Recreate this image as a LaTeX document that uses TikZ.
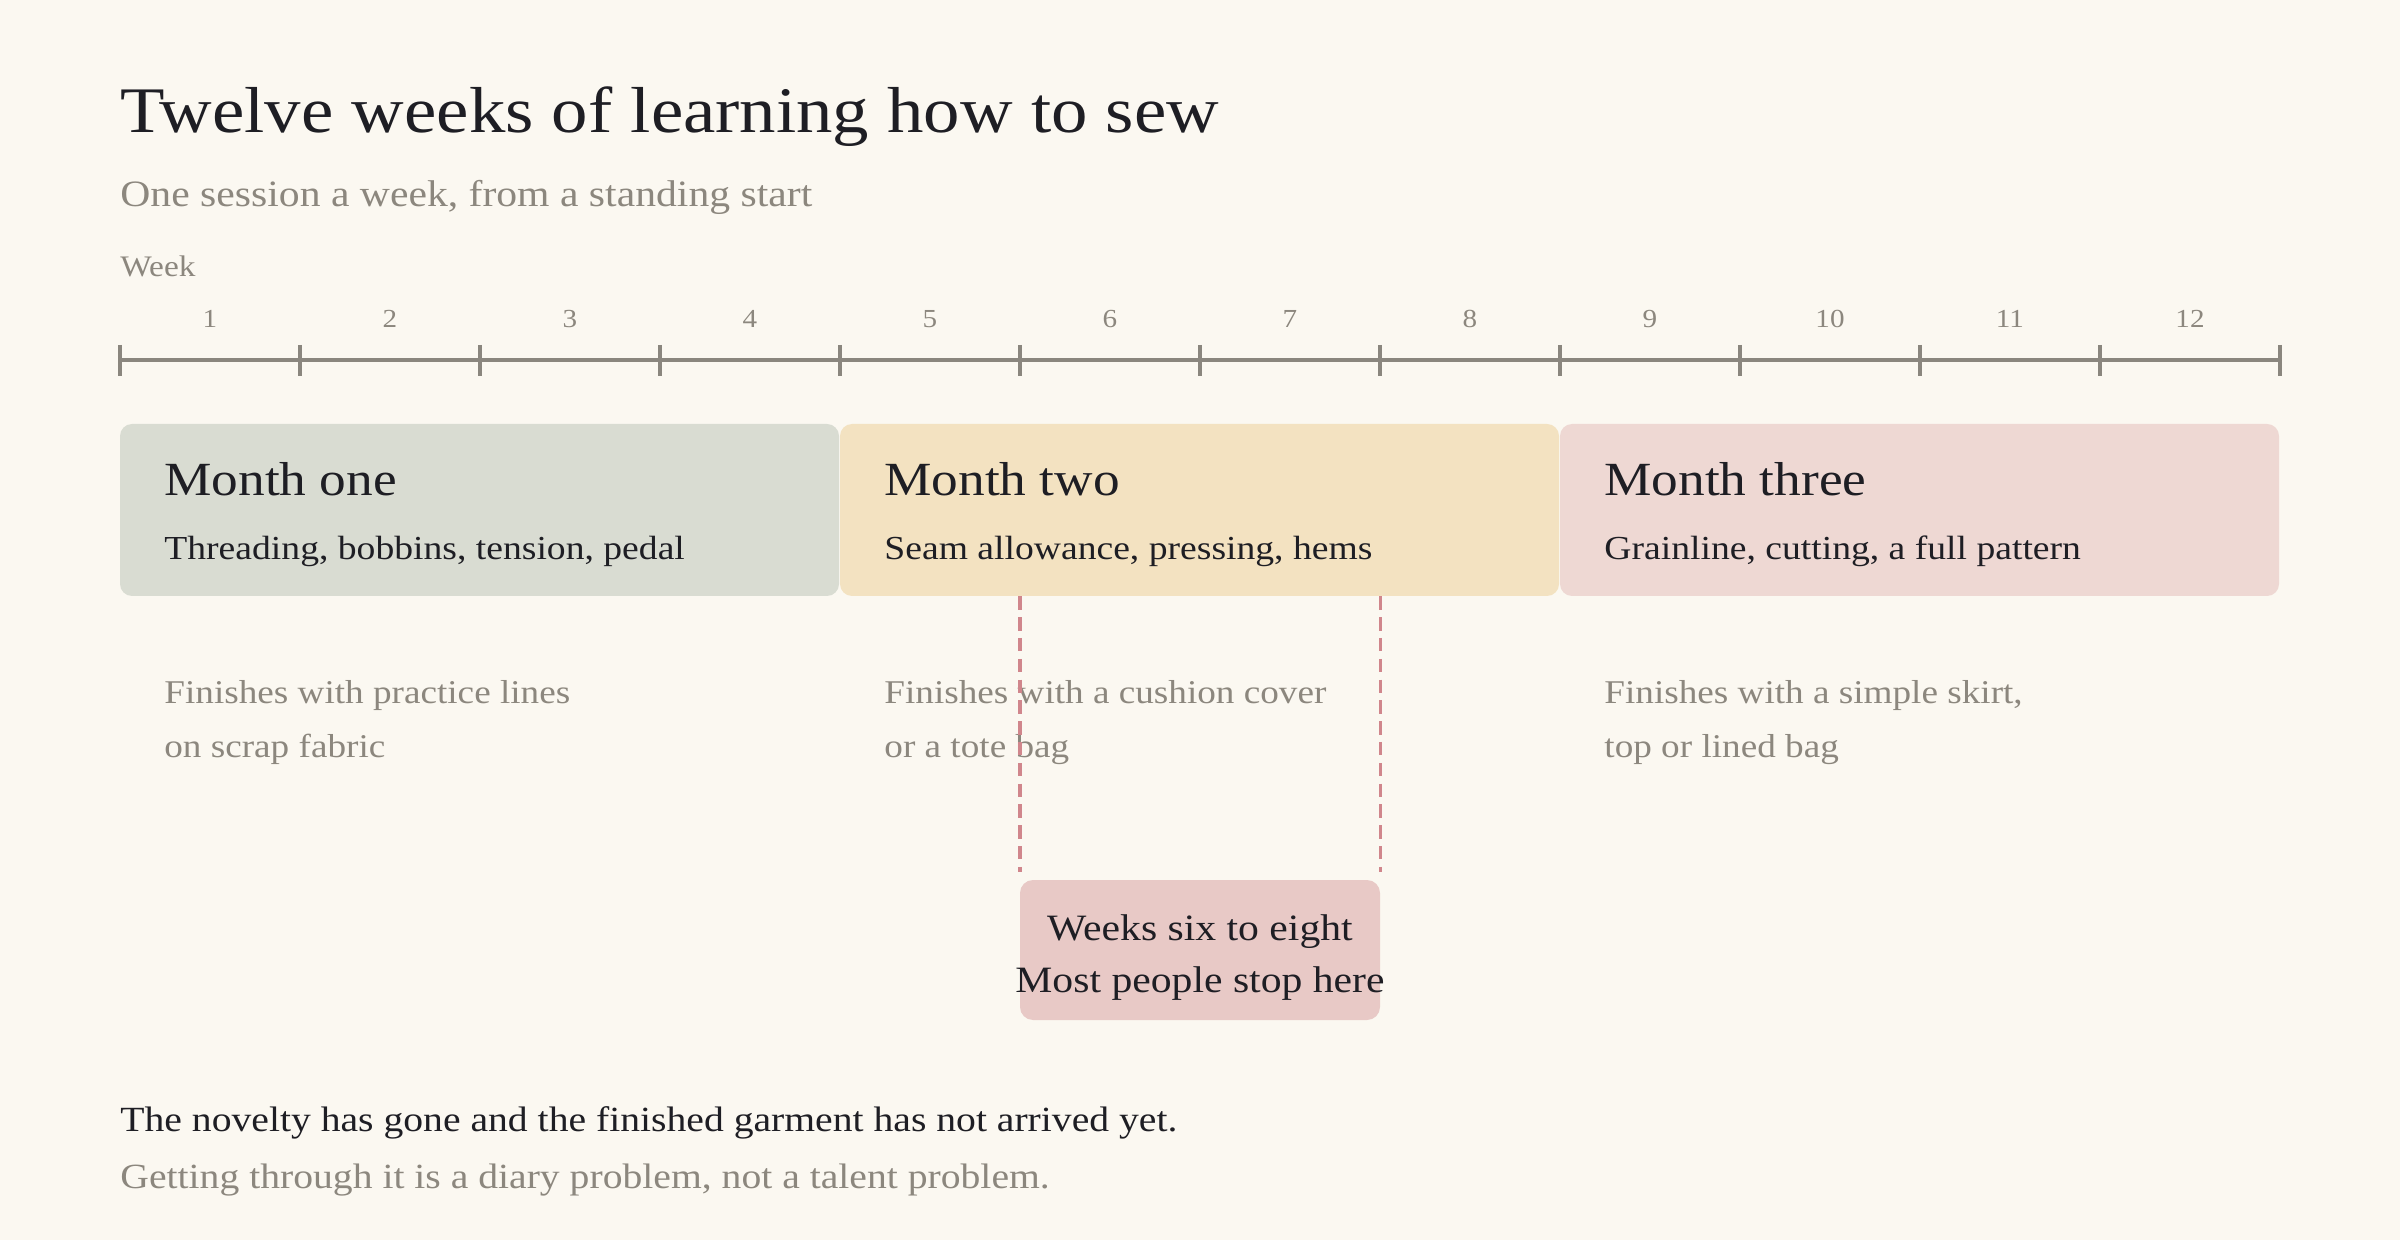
\documentclass[tikz,border=0pt]{standalone}
\usepackage{fontspec}
\setmainfont[FakeStretch=1.12]{Liberation Serif}
\definecolor{bg}{HTML}{FBF8F1}
\definecolor{ink}{HTML}{1E1E24}
\definecolor{muted}{HTML}{8C877E}
\definecolor{axisc}{HTML}{8A867E}
\definecolor{mone}{HTML}{D9DCD2}
\definecolor{mtwo}{HTML}{F3E2C1}
\definecolor{mthree}{HTML}{EED8D3}
\definecolor{hlc}{HTML}{E8C9C6}
\definecolor{dashc}{HTML}{D0868C}
\newcommand{\fs}[1]{\fontsize{#1pt}{1.2\dimexpr#1pt\relax}\selectfont}
\tikzset{
  txt/.style={anchor=base west, inner sep=0pt, text=ink},
  mutedtxt/.style={anchor=base west, inner sep=0pt, text=muted},
  weeknum/.style={anchor=base, inner sep=0pt, text=muted, font=\fs{13}},
  monthbox/.style={rectangle, rounded corners=6pt, inner sep=0pt, minimum width=359.5pt, minimum height=86pt},
  axisline/.style={draw=axisc, line width=1.6pt},
  stopline/.style={draw=dashc, line width=1.9pt, dash pattern=on 6.7pt off 3.7pt},
}
\begin{document}
\begin{tikzpicture}[x=0.5pt,y=-0.5pt]
\useasboundingbox (0,0) rectangle (2400,1240);
\fill[bg] (0,0) rectangle (2400,1240);
% title
\node[txt, font=\fs{32.5}] (title) at (120,133) {Twelve weeks of learning how to sew};
\node[mutedtxt, font=\fs{18.6}] (sub) at (120,207) {One session a week, from a standing start};
\node[mutedtxt, font=\fs{14.9}] (weeklbl) at (120,277) {Week};
% axis
\foreach \i in {1,...,12} {
  \node[weeknum] (w\i) at ({120+180*(\i-0.5)},328) {\i};
}
\draw[axisline] (120,360) -- (2280,360);
\foreach \j in {0,...,12} {
  \draw[axisline] ({120+180*\j},345) -- ({120+180*\j},376);
}
% month boxes
\node[monthbox, fill=mone] (m1) at (479.5,510) {};
\node[monthbox, fill=mtwo] (m2) at (1199.5,510) {};
\node[monthbox, fill=mthree] (m3) at (1919.5,510) {};
\node[txt, font=\fs{23.8}] (m1t) at (164,496) {Month one};
\node[txt, font=\fs{16.8}] (m1s) at (164,560) {Threading, bobbins, tension, pedal};
\node[txt, font=\fs{23.8}] (m2t) at (884,496) {Month two};
\node[txt, font=\fs{16.8}] (m2s) at (884,560) {Seam allowance, pressing, hems};
\node[txt, font=\fs{23.8}] (m3t) at (1604,496) {Month three};
\node[txt, font=\fs{16.8}] (m3s) at (1604,560) {Grainline, cutting, a full pattern};
% outcomes
\node[mutedtxt, font=\fs{16.6}] (f1a) at (164,704) {Finishes with practice lines};
\node[mutedtxt, font=\fs{16.6}] (f1b) at (164,757) {on scrap fabric};
\node[mutedtxt, font=\fs{16.6}] (f2a) at (884,704) {Finishes with a cushion cover};
\node[mutedtxt, font=\fs{16.6}] (f2b) at (884,757) {or a tote bag};
\node[mutedtxt, font=\fs{16.6}] (f3a) at (1604,704) {Finishes with a simple skirt,};
\node[mutedtxt, font=\fs{16.6}] (f3b) at (1604,757) {top or lined bag};
% highlight
\node[rectangle, rounded corners=6.5pt, fill=hlc, inner sep=0pt, minimum width=180pt, minimum height=70pt] (hl) at (1200,950) {};
\node[anchor=base, inner sep=0pt, text=ink, font=\fs{18.6}] (hl1) at (1200,940) {Weeks six to eight};
\node[anchor=base, inner sep=0pt, text=ink, font=\fs{18.6}] (hl2) at (1200,992) {Most people stop here};
\draw[stopline] (hl.north west |- m2.south) -- ([yshift=4pt]hl.north west);
\draw[stopline] (hl.north east |- m2.south) -- ([yshift=4pt]hl.north east);
% footer
\node[txt, font=\fs{17.7}] (foot1) at (120,1131) {The novelty has gone and the finished garment has not arrived yet.};
\node[mutedtxt, font=\fs{17.7}] (foot2) at (120,1188) {Getting through it is a diary problem, not a talent problem.};
\end{tikzpicture}
\end{document}
